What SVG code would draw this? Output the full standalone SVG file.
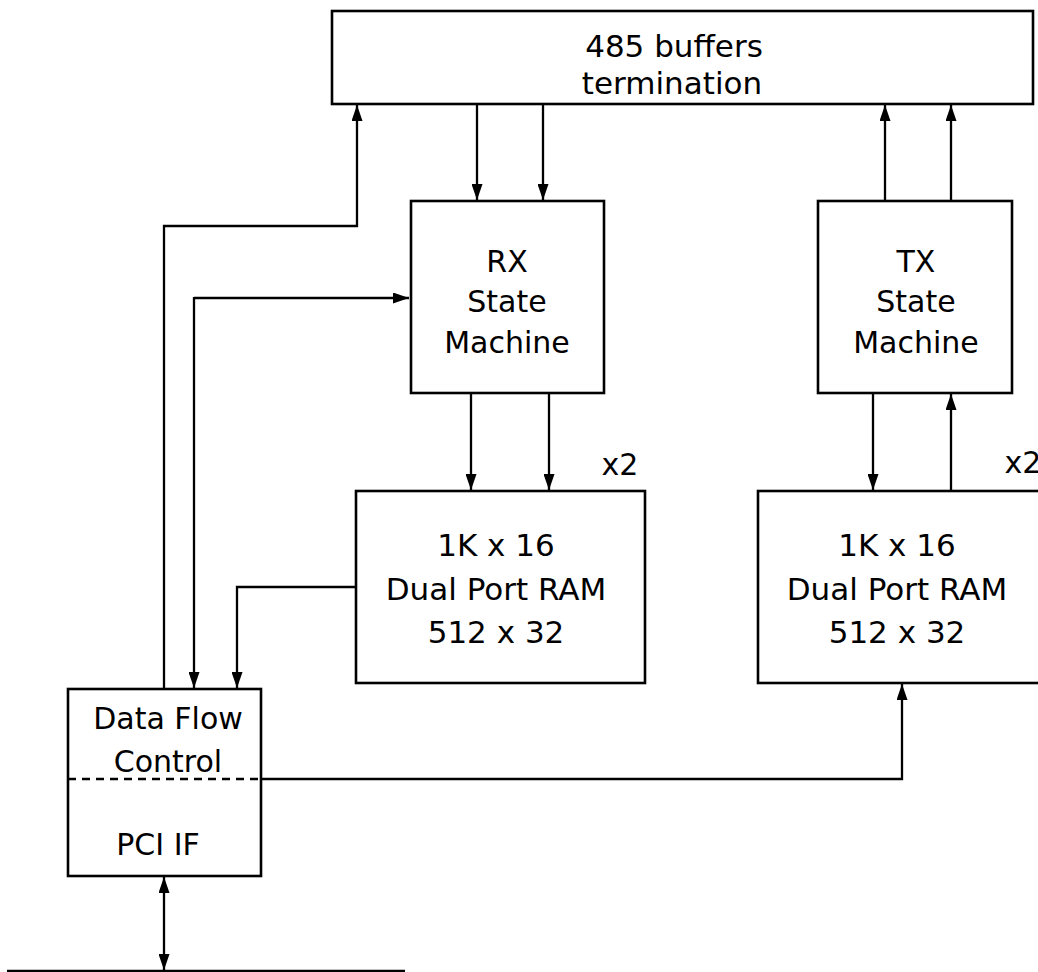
<svg xmlns="http://www.w3.org/2000/svg" width="1038" height="972" viewBox="0 0 1038 972">
<style>
.box{fill:#fff;stroke:#000;stroke-width:2.6}
.ln{fill:none;stroke:#000;stroke-width:2.3}
.t{font-family:"DejaVu Sans","Liberation Sans",sans-serif;font-size:30px;fill:#000;text-anchor:middle}
.d{fill:none;stroke:#000;stroke-width:2.3;stroke-dasharray:8 6}
</style>
<defs>
<marker id="ah" viewBox="0 0 16 11" refX="16" refY="5.5" markerWidth="16" markerHeight="11" markerUnits="userSpaceOnUse" orient="auto-start-reverse">
<path d="M0,0 L16,5.5 L0,11 z" fill="#000"/>
</marker>
</defs>
<rect width="1038" height="972" fill="#fff"/>
<g id="connectors">
<path class="ln" d="M477,104 V200" marker-end="url(#ah)"/>
<path class="ln" d="M543,104 V200" marker-end="url(#ah)"/>
<path class="ln" d="M885,201 V105" marker-end="url(#ah)"/>
<path class="ln" d="M951,201 V105" marker-end="url(#ah)"/>
<path class="ln" d="M471,393 V490" marker-end="url(#ah)"/>
<path class="ln" d="M549,393 V490" marker-end="url(#ah)"/>
<path class="ln" d="M873,393 V490" marker-end="url(#ah)"/>
<path class="ln" d="M951,491 V394" marker-end="url(#ah)"/>
<path class="ln" d="M164,689 V226 H357 V105" marker-end="url(#ah)"/>
<path class="ln" d="M194,298 H409" marker-end="url(#ah)"/>
<path class="ln" d="M194,297 V688" marker-end="url(#ah)"/>
<path class="ln" d="M356,587 H237 V688" marker-end="url(#ah)"/>
<path class="ln" d="M261,779 H902 V684" marker-end="url(#ah)"/>
<path class="ln" d="M164,877 V970" marker-start="url(#ah)" marker-end="url(#ah)"/>
<path class="ln" d="M7,971 H405"/>
</g>
<g id="buffers">
<rect class="box" x="332" y="11" width="701" height="93"/>
<text class="t" x="674" y="57" style="font-size:31px">485 buffers</text>
<text class="t" x="672" y="94" style="font-size:31px">termination</text>
</g>
<g id="rx">
<rect class="box" x="411" y="201" width="193" height="192"/>
<text class="t" x="507" y="272">RX</text>
<text class="t" x="507" y="312">State</text>
<text class="t" x="507" y="353">Machine</text>
</g>
<g id="tx">
<rect class="box" x="818" y="201" width="194" height="192"/>
<text class="t" x="916" y="272">TX</text>
<text class="t" x="916" y="312">State</text>
<text class="t" x="916" y="353">Machine</text>
</g>
<g id="ram1">
<rect class="box" x="356" y="491" width="289" height="192"/>
<text class="t" x="496" y="556" style="font-size:31px">1K x 16</text>
<text class="t" x="496" y="600" style="font-size:31px">Dual Port RAM</text>
<text class="t" x="496" y="643" style="font-size:31px">512 x 32</text>
<text class="t" x="620" y="475">x2</text>
</g>
<g id="ram2">
<rect class="box" x="758" y="491" width="289" height="192"/>
<text class="t" x="897" y="556" style="font-size:31px">1K x 16</text>
<text class="t" x="897" y="600" style="font-size:31px">Dual Port RAM</text>
<text class="t" x="897" y="643" style="font-size:31px">512 x 32</text>
<text class="t" x="1023" y="473">x2</text>
</g>
<g id="dfc">
<rect class="box" x="68" y="689" width="193" height="187"/>
<path class="d" d="M68,779 H261"/>
<text class="t" x="168" y="729">Data Flow</text>
<text class="t" x="168" y="772">Control</text>
<text class="t" x="158" y="855">PCI IF</text>
</g>
</svg>
